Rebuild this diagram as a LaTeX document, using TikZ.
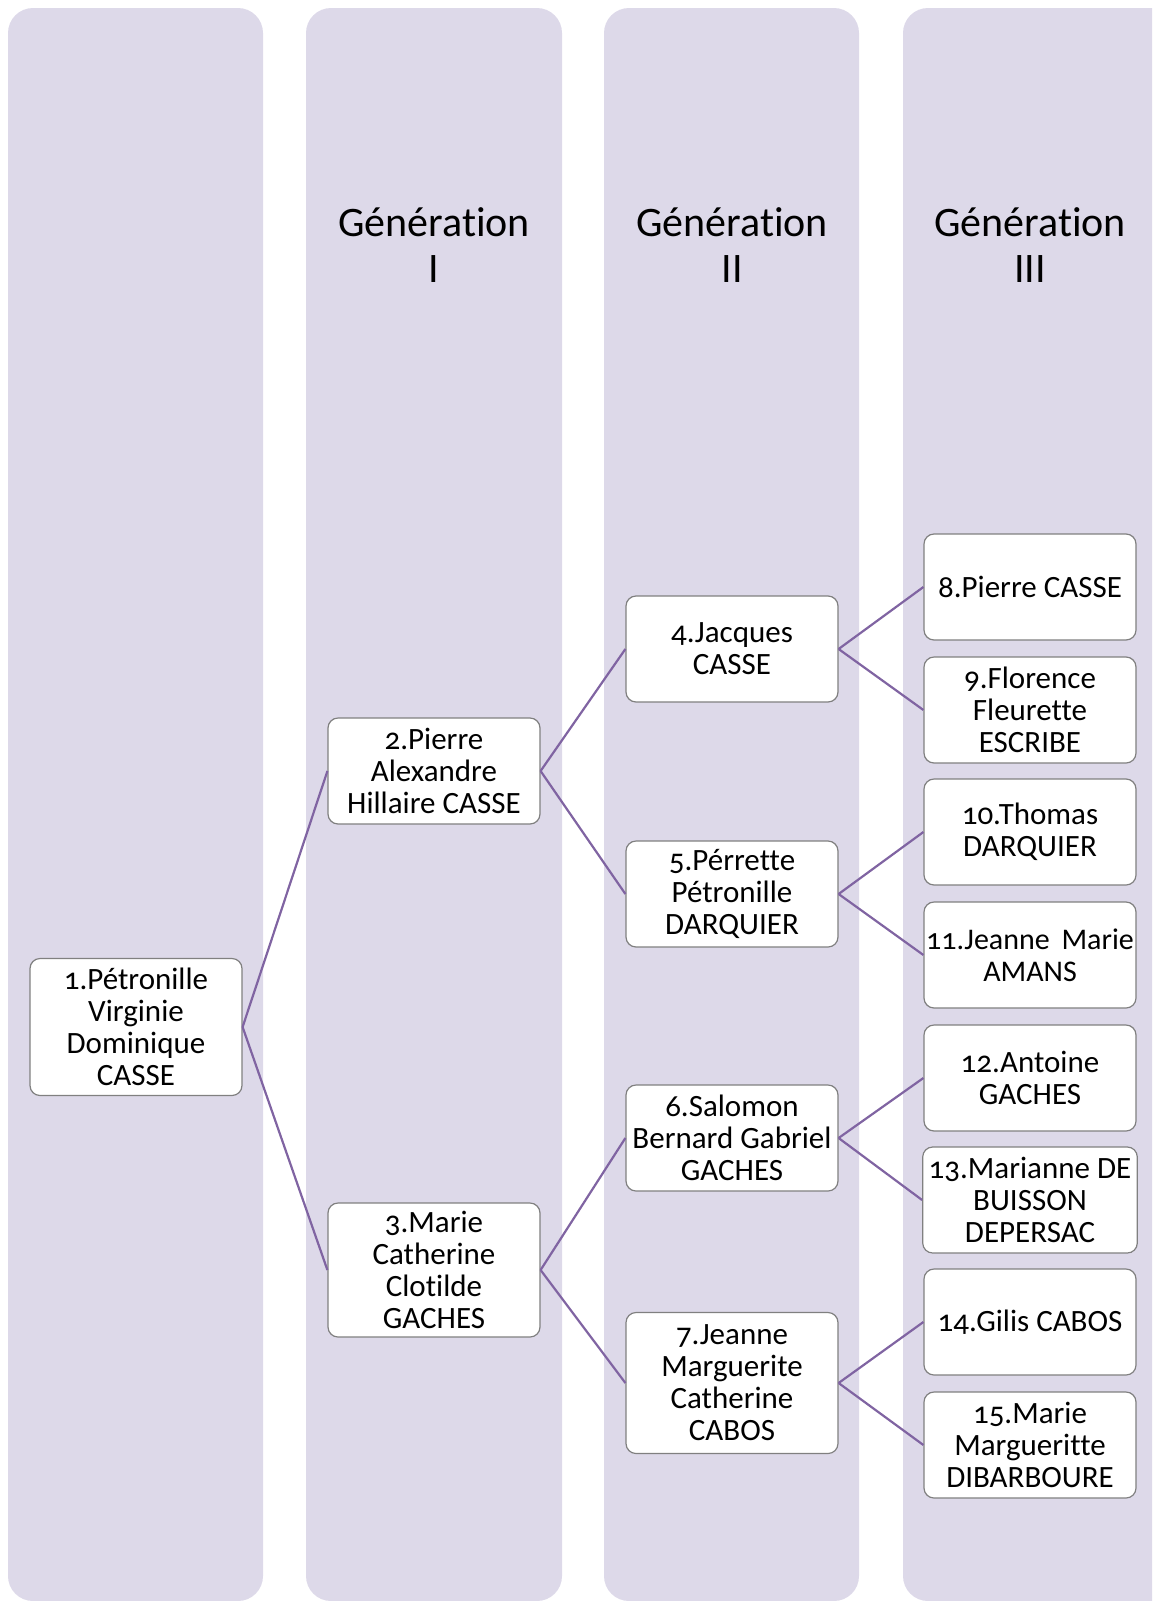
\documentclass[tikz,border=0pt]{standalone}
\usepackage{fontspec}
\setmainfont{Carlito}[Numbers=OldStyle, Ligatures=NoCommon]
\usepackage{tikz}
\usetikzlibrary{positioning}

\definecolor{bandfill}{RGB}{221,217,233}
\definecolor{boxline}{RGB}{128,128,128}
\definecolor{linkcol}{RGB}{128,100,162}

\begin{document}
\begin{tikzpicture}[x=0.5pt, y=-0.5pt,
	band/.style    = {fill=bandfill, rounded corners=12.5pt},
	heading/.style = {align=center, font=\fontsize{21}{23}\selectfont},
	person/.style  = {draw=boxline, fill=white, line width=0.6pt, rounded corners=5pt, minimum width=106pt, inner sep=3pt, align=center, minimum height=53pt, font=\fontsize{15.5}{16}\selectfont},
	link/.style    = {draw=linkcol, line width=1.1pt}]

	\clip (0,0) rectangle (1152,1601);

	% Background columns, one per generation
	\foreach \xa/\xb in {8/263, 306/562, 604/859, 903/1190}
	\fill[band] (\xa,8) rectangle (\xb,1601);

	% Column headings
	\node[heading] (h1) at (434,245) {Génération\\I};
	\node[heading] (h2) at (732,245) {Génération\\II};
	\node[heading] (h3) at (1030,245) {Génération\\III};

	% Root of the tree
	\node[person, minimum height=68.5pt] (p1) at (136,1027) {1.Pétronille\\Virginie\\Dominique\\CASSE};

	% Generation I
	\node[person] (p2) at (434,771) {2.Pierre\\Alexandre\\Hillaire CASSE};
	\node[person, minimum height=67pt] (p3) at (434,1270) {3.Marie\\Catherine\\Clotilde\\GACHES};

	% Generation II
	\node[person] (p4) at (732,649) {4.Jacques\\CASSE};
	\node[person] (p5) at (732,894) {5.Pérrette\\Pétronille\\DARQUIER};
	\node[person] (p6) at (732,1138) {6.Salomon\\Bernard Gabriel\\GACHES};
	\node[person, minimum height=70.5pt] (p7) at (732,1383) {7.Jeanne\\Marguerite\\Catherine\\CABOS};

	% Generation III
	\node[person] (p8) at (1030,587) {8.Pierre CASSE};
	\node[person] (p9) at (1030,710) {9.Florence\\Fleurette\\ESCRIBE};
	\node[person] (p10) at (1030,832) {10.Thomas\\DARQUIER};
	\node[person, inner xsep=1pt, font=\fontsize{15}{16}\selectfont] (p11) at (1030,955) {11.Jeanne\ \thinspace Marie\\AMANS};
	\node[person] (p12) at (1030,1078) {12.Antoine\\GACHES};
	\node[person] (p13) at (1030,1200) {13.Marianne DE\\BUISSON\\DEPERSAC};
	\node[person] (p14) at (1030,1322) {14.Gilis CABOS};
	\node[person] (p15) at (1030,1445) {15.Marie\\Margueritte\\DIBARBOURE};

	% Lines from each person to both parents
	\foreach \a/\b in {1/2,1/3,2/4,2/5,3/6,3/7,4/8,4/9,5/10,5/11,6/12,6/13,7/14,7/15}
	\draw[link] (p\a.east) -- (p\b.west);

\end{tikzpicture}
\end{document}
